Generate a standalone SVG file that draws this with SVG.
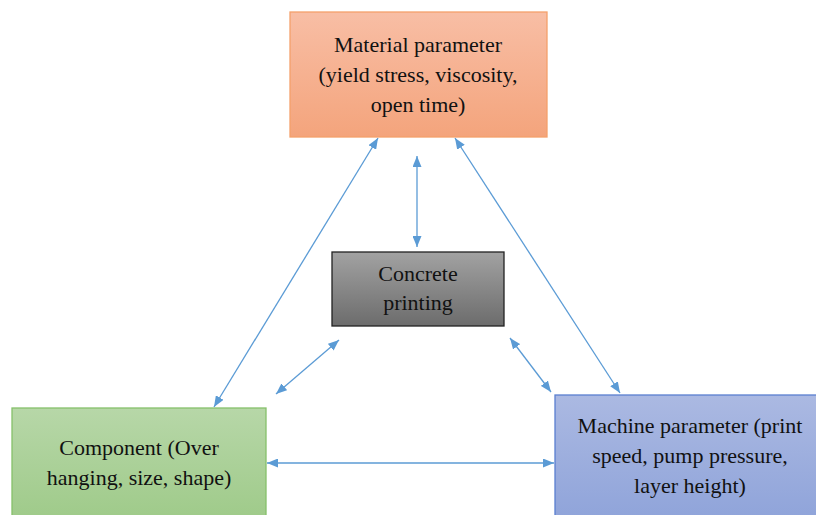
<svg xmlns="http://www.w3.org/2000/svg" width="816" height="515" viewBox="0 0 816 515">
<defs>
<linearGradient id="gOr" x1="0" y1="0" x2="0" y2="1"><stop offset="0" stop-color="#f8bea5"/><stop offset="1" stop-color="#f4a47c"/></linearGradient>
<linearGradient id="gGr" x1="0" y1="0" x2="0" y2="1"><stop offset="0" stop-color="#b7d7a8"/><stop offset="1" stop-color="#9cc986"/></linearGradient>
<linearGradient id="gBl" x1="0" y1="0" x2="0" y2="1"><stop offset="0" stop-color="#abb9e2"/><stop offset="1" stop-color="#8da2d9"/></linearGradient>
<linearGradient id="gGy" x1="0" y1="0" x2="0" y2="1"><stop offset="0" stop-color="#a2a2a2"/><stop offset="1" stop-color="#6c6c6c"/></linearGradient>
<marker id="ah" viewBox="0 0 11 9" refX="11" refY="4.5" markerWidth="11" markerHeight="9" markerUnits="userSpaceOnUse" orient="auto-start-reverse"><path d="M0,0 L11,4.5 L0,9 Z" fill="#5b9bd5"/></marker>
</defs>
<style>
text{font-family:"Liberation Serif","Times New Roman",serif;font-size:22px;fill:#111;text-anchor:middle}
.c{stroke:#5b9bd5;stroke-width:1.3;fill:none;marker-start:url(#ah);marker-end:url(#ah)}
</style>
<rect width="816" height="515" fill="#fff"/>
<g id="connectors">
<line class="c" x1="378" y1="138" x2="214" y2="407"/>
<line class="c" x1="417" y1="156" x2="417" y2="247"/>
<line class="c" x1="455" y1="138" x2="620" y2="393"/>
<line class="c" x1="339" y1="340" x2="276" y2="394"/>
<line class="c" x1="510" y1="338" x2="551" y2="392"/>
<line class="c" x1="267" y1="463" x2="554" y2="463"/>
</g>
<g id="material">
<rect x="290" y="12" width="257" height="125" fill="url(#gOr)" stroke="#f4a06b" stroke-width="1.3"/>
<text x="418" y="52">Material parameter</text>
<text x="418" y="82">(yield stress, viscosity,</text>
<text x="418" y="112">open time)</text>
</g>
<g id="concrete">
<rect x="332" y="252" width="172" height="74" fill="url(#gGy)" stroke="#222" stroke-width="1.3"/>
<text x="418" y="281">Concrete</text>
<text x="418" y="310">printing</text>
</g>
<g id="component">
<rect x="12" y="408" width="254" height="125" fill="url(#gGr)" stroke="#86c06a" stroke-width="1.3"/>
<text x="139" y="455">Component (Over</text>
<text x="139" y="485">hanging, size, shape)</text>
</g>
<g id="machine">
<rect x="555" y="395" width="270" height="135" fill="url(#gBl)" stroke="#5a7fd0" stroke-width="1.3"/>
<text x="690" y="433">Machine parameter (print</text>
<text x="690" y="463">speed, pump pressure,</text>
<text x="690" y="493">layer height)</text>
</g>
</svg>
